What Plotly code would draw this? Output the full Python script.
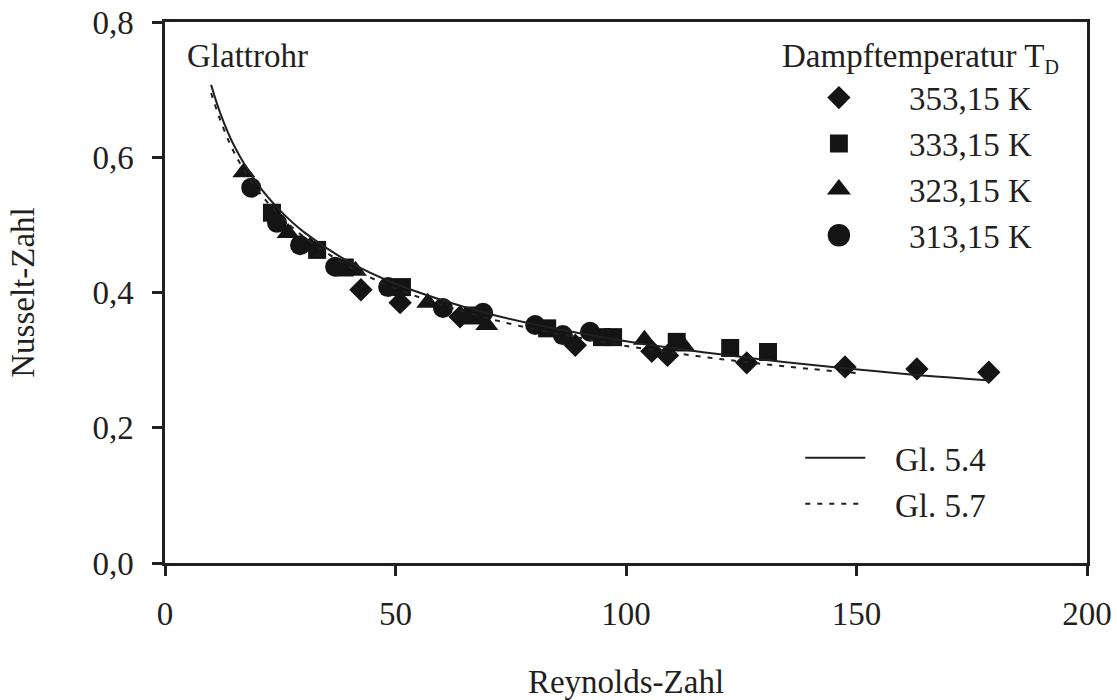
import plotly.graph_objects as go

# ---- data ----
re_353 = [42.5, 51.0, 64.0, 89.0, 105.6, 109.0, 126.2, 147.5, 163.1, 178.7]
nu_353 = [0.404, 0.385, 0.364, 0.322, 0.313, 0.307, 0.296, 0.290, 0.287, 0.282]

re_333 = [23.2, 33.0, 39.0, 51.4, 66.8, 82.9, 94.8, 97.2, 111.0, 122.6, 130.8]
nu_333 = [0.518, 0.463, 0.437, 0.408, 0.366, 0.347, 0.334, 0.334, 0.327, 0.318, 0.312]

re_323 = [17.1, 26.7, 31.5, 41.3, 57.0, 69.8, 104.0, 112.6]
nu_323 = [0.578, 0.488, 0.468, 0.432, 0.385, 0.352, 0.330, 0.320]

re_313 = [18.7, 24.3, 29.3, 36.9, 48.4, 60.3, 69.0, 80.3, 86.3, 92.2]
nu_313 = [0.555, 0.503, 0.470, 0.438, 0.408, 0.377, 0.370, 0.352, 0.337, 0.342]

re_gl54 = [10, 12, 15, 20, 25, 30, 40, 50, 60, 70, 80, 100, 120, 140, 160, 179]
nu_gl54 = [0.707, 0.665, 0.617, 0.561, 0.521, 0.490, 0.445, 0.413, 0.389, 0.369,
           0.353, 0.328, 0.309, 0.293, 0.280, 0.270]

re_gl57 = [10, 12, 15, 20, 25, 30, 40, 50, 60, 70, 80, 100, 120, 140, 150]
nu_gl57 = [0.695, 0.655, 0.607, 0.552, 0.513, 0.483, 0.438, 0.406, 0.382, 0.362,
           0.346, 0.321, 0.302, 0.287, 0.281]

x_ticks = [0, 50, 100, 150, 200]
y_ticks = [0.0, 0.2, 0.4, 0.6, 0.8]

INK = "#231f20"
MARK = "#141414"
FONT = "Liberation Serif"
NB = "\u00a0"

fig = go.Figure()

series = [
    ("353,15 K", re_353, nu_353, "diamond", 18),
    ("333,15 K", re_333, nu_333, "square", 18),
    ("323,15 K", re_323, nu_323, "triangle-up", 20),
    ("313,15 K", re_313, nu_313, "circle", 20),
]
for name, xs, ys, sym, sz in series:
    fig.add_trace(go.Scatter(
        x=xs, y=ys, mode="markers", name=name, legend="legend",
        marker=dict(symbol=sym, size=sz, color=MARK, line=dict(width=0)),
    ))

fig.add_trace(go.Scatter(
    x=re_gl54, y=nu_gl54, mode="lines", name=NB * 3 + "Gl. 5.4", legend="legend2",
    line=dict(color=INK, width=2, shape="spline"),
))
fig.add_trace(go.Scatter(
    x=re_gl57, y=nu_gl57, mode="lines", name=NB * 3 + "Gl. 5.7", legend="legend2",
    line=dict(color=INK, width=2, shape="spline", dash="5px,7px"),
))

axis_common = dict(
    showline=True, linecolor=INK, linewidth=2.5, mirror=True,
    ticks="outside", ticklen=10, tickwidth=2.5, tickcolor=INK,
    showgrid=False, zeroline=False, automargin=False,
    tickfont=dict(family=FONT, size=33, color=INK),
)

fig.update_layout(
    width=1117, height=700,
    margin=dict(l=165, r=30, t=22, b=137),
    paper_bgcolor="white", plot_bgcolor="white",
    separators=",.",
    font=dict(family=FONT, size=33, color=INK),
    xaxis=dict(range=[0, 200], tickvals=x_ticks, tickformat="d", ticklabelstandoff=10,
               title=dict(text="Reynolds-Zahl", font=dict(family=FONT, size=33, color=INK), standoff=46),
               **axis_common),
    yaxis=dict(range=[0, 0.8], tickvals=y_ticks, tickformat=".1f", ticklabelstandoff=12,
               title=dict(text="Nusselt-Zahl", font=dict(family=FONT, size=33, color=INK), standoff=48),
               **axis_common),
    legend=dict(
        x=0.655, y=0.912, xanchor="left", yanchor="top",
        bgcolor="rgba(0,0,0,0)", borderwidth=0,
        font=dict(family=FONT, size=33, color=INK),
        itemwidth=130, tracegroupgap=0,
    ),
    legend2=dict(
        x=0.689, y=0.246, xanchor="left", yanchor="top",
        bgcolor="rgba(0,0,0,0)", borderwidth=0,
        font=dict(family=FONT, size=33, color=INK),
        itemwidth=60,
    ),
    annotations=[
        dict(text="Glattrohr", xref="paper", yref="paper", x=0.022, y=0.974,
             xanchor="left", yanchor="top", showarrow=False,
             font=dict(family=FONT, size=33, color=INK)),
        dict(text="Dampftemperatur T<sub><span style='font-size:20px'>D</span></sub>",
             xref="paper", yref="paper", x=0.667, y=0.974,
             xanchor="left", yanchor="top", showarrow=False,
             font=dict(family=FONT, size=33, color=INK)),
    ],
)

# enlarge legend symbols (plotly caps them at 16 px) to match the reference
post = """
var k = [1.12, 1.12, 1.3, 1.4];
var items = document.querySelectorAll('g.legend g.traces');
items.forEach(function(g, i){
  g.querySelectorAll('.legendpoints path').forEach(function(p){
    var t = p.getAttribute('transform') || '';
    if (t.indexOf('scale') < 0) { p.setAttribute('transform', t + ' scale(' + (k[i] || 1) + ')'); }
  });
});
"""

fig.write_html("out.html", post_script=post)
